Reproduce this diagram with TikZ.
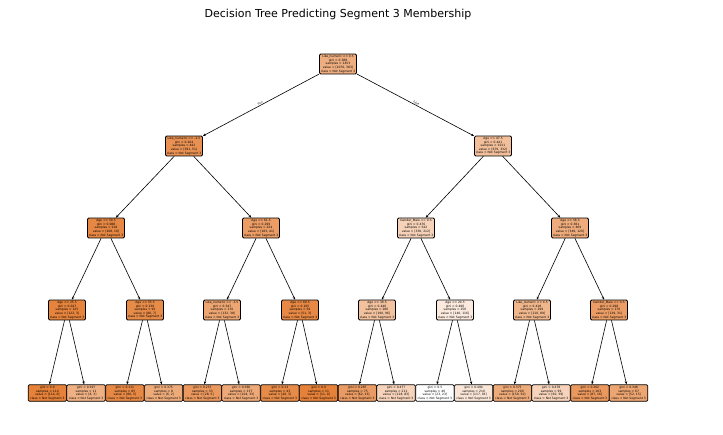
\documentclass[tikz,border=0pt]{standalone}
\usepackage{fontspec}
\setmainfont{DejaVu Sans}
\usepackage{xcolor}
\usetikzlibrary{arrows.meta}
\definecolor{treeor}{RGB}{229,129,57}

\begin{document}
\begin{tikzpicture}[
  x=1pt, y=-1pt,
  >={Stealth[length=3pt,width=2.4pt]},
  nd/.style={draw, rounded corners=1.2pt, line width=0.75pt, align=center,
             inner sep=1.3pt, font=\fontsize{3}{3.6}\selectfont},
  lf/.style={nd, minimum width=38.5pt, minimum height=16.5pt},
  ed/.style={->, line width=0.6pt},
  el/.style={font=\fontsize{2.6}{3}\selectfont, inner sep=0.6pt, midway, sloped, above}]

  \useasboundingbox (0,0) rectangle (723,434);
  \node[font=\fontsize{11}{13}\selectfont] (title) at (338,14)
    {Decision Tree Predicting Segment 3 Membership};

  \node[nd, fill=treeor!64!white] (root) at (338,64) {Like\_numeric <= 0.5\\ gini = 0.388\\
    samples = 1453\\ value = [1070, 383]\\ class = Not Segment 3};

  \node[nd, fill=treeor!87!white] (l) at (184,146) {Like\_numeric <= -2.5\\ gini = 0.204\\
    samples = 442\\ value = [391, 51]\\ class = Not Segment 3};
  \node[nd, fill=treeor!51!white] (r) at (493,146) {Age <= 47.5\\ gini = 0.441\\
    samples = 1011\\ value = [679, 332]\\ class = Not Segment 3};

  \node[nd, fill=treeor!95!white] (a) at (106,228) {Age <= 50.5\\ gini = 0.088\\
    samples = 218\\ value = [208, 10]\\ class = Not Segment 3};
  \node[nd, fill=treeor!78!white] (b) at (261,228) {Age <= 61.5\\ gini = 0.299\\
    samples = 224\\ value = [183, 41]\\ class = Not Segment 3};
  \node[nd, fill=treeor!36!white] (c) at (416,228) {Gender\_Male <= 0.5\\ gini = 0.476\\
    samples = 542\\ value = [330, 212]\\ class = Not Segment 3};
  \node[nd, fill=treeor!66!white] (d) at (570,228) {Age <= 56.5\\ gini = 0.381\\
    samples = 469\\ value = [349, 120]\\ class = Not Segment 3};

  \node[nd, fill=treeor!98!white] (a1) at (67,310) {Age <= 25.5\\ gini = 0.047\\
    samples = 125\\ value = [122, 3]\\ class = Not Segment 3};
  \node[nd, fill=treeor!92!white] (a2) at (145,310) {Age <= 55.5\\ gini = 0.139\\
    samples = 93\\ value = [86, 7]\\ class = Not Segment 3};
  \node[nd, fill=treeor!71!white] (b1) at (222,310) {Like\_numeric <= -3.5\\ gini = 0.347\\
    samples = 170\\ value = [132, 38]\\ class = Not Segment 3};
  \node[nd, fill=treeor!94!white] (b2) at (300,310) {Age <= 69.5\\ gini = 0.105\\
    samples = 54\\ value = [51, 3]\\ class = Not Segment 3};
  \node[nd, fill=treeor!49!white] (c1) at (377,310) {Age <= 30.5\\ gini = 0.446\\
    samples = 286\\ value = [190, 96]\\ class = Not Segment 3};
  \node[nd, fill=treeor!17!white] (c2) at (455,310) {Age <= 24.5\\ gini = 0.496\\
    samples = 256\\ value = [140, 116]\\ class = Not Segment 3};
  \node[nd, fill=treeor!58!white] (d1) at (532,310) {Like\_numeric <= 4.5\\ gini = 0.418\\
    samples = 299\\ value = [210, 89]\\ class = Not Segment 3};
  \node[nd, fill=treeor!78!white] (d2) at (609,310) {Gender\_Male <= 0.5\\ gini = 0.298\\
    samples = 170\\ value = [139, 31]\\ class = Not Segment 3};

  \node[lf, fill=treeor] (la1) at (47.4,393) {gini = 0.0\\ samples = 114\\
    value = [114, 0]\\ class = Not Segment 3};
  \node[lf, fill=treeor!62!white] (la2) at (86.1,393) {gini = 0.397\\ samples = 11\\
    value = [8, 3]\\ class = Not Segment 3};
  \node[lf, fill=treeor!94!white] (la3) at (124.9,393) {gini = 0.111\\ samples = 85\\
    value = [80, 5]\\ class = Not Segment 3};
  \node[lf, fill=treeor!67!white] (la4) at (163.6,393) {gini = 0.375\\ samples = 8\\
    value = [6, 2]\\ class = Not Segment 3};
  \node[lf, fill=treeor!82!white] (lb1) at (202.4,393) {gini = 0.257\\ samples = 33\\
    value = [28, 5]\\ class = Not Segment 3};
  \node[lf, fill=treeor!68!white] (lb2) at (241.1,393) {gini = 0.366\\ samples = 137\\
    value = [104, 33]\\ class = Not Segment 3};
  \node[lf, fill=treeor!92!white] (lb3) at (279.9,393) {gini = 0.13\\ samples = 43\\
    value = [40, 3]\\ class = Not Segment 3};
  \node[lf, fill=treeor] (lb4) at (318.6,393) {gini = 0.0\\ samples = 11\\
    value = [11, 0]\\ class = Not Segment 3};
  \node[lf, fill=treeor!79!white] (lc1) at (357.4,393) {gini = 0.287\\ samples = 75\\
    value = [62, 13]\\ class = Not Segment 3};
  \node[lf, fill=treeor!35!white] (lc2) at (396.1,393) {gini = 0.477\\ samples = 211\\
    value = [128, 83]\\ class = Not Segment 3};
  \node[lf, fill=white] (lc3) at (434.9,393) {gini = 0.5\\ samples = 46\\
    value = [23, 23]\\ class = Not Segment 3};
  \node[lf, fill=treeor!20!white] (lc4) at (473.6,393) {gini = 0.494\\ samples = 210\\
    value = [117, 93]\\ class = Not Segment 3};
  \node[lf, fill=treeor!67!white] (ld1) at (512.4,393) {gini = 0.375\\ samples = 200\\
    value = [150, 50]\\ class = Not Segment 3};
  \node[lf, fill=treeor!35!white] (ld2) at (551.1,393) {gini = 0.478\\ samples = 99\\
    value = [60, 39]\\ class = Not Segment 3};
  \node[lf, fill=treeor!82!white] (ld3) at (589.9,393) {gini = 0.262\\ samples = 103\\
    value = [87, 16]\\ class = Not Segment 3};
  \node[lf, fill=treeor!71!white] (ld4) at (628.6,393) {gini = 0.348\\ samples = 67\\
    value = [52, 15]\\ class = Not Segment 3};

  \draw[ed] (root) -- (l) node[el] {True};
  \draw[ed] (root) -- (r) node[el] {False};
  \draw[ed] (l) -- (a);
  \draw[ed] (l) -- (b);
  \draw[ed] (r) -- (c);
  \draw[ed] (r) -- (d);
  \draw[ed] (a) -- (a1);
  \draw[ed] (a) -- (a2);
  \draw[ed] (b) -- (b1);
  \draw[ed] (b) -- (b2);
  \draw[ed] (c) -- (c1);
  \draw[ed] (c) -- (c2);
  \draw[ed] (d) -- (d1);
  \draw[ed] (d) -- (d2);
  \draw[ed] (a1) -- (la1);
  \draw[ed] (a1) -- (la2);
  \draw[ed] (a2) -- (la3);
  \draw[ed] (a2) -- (la4);
  \draw[ed] (b1) -- (lb1);
  \draw[ed] (b1) -- (lb2);
  \draw[ed] (b2) -- (lb3);
  \draw[ed] (b2) -- (lb4);
  \draw[ed] (c1) -- (lc1);
  \draw[ed] (c1) -- (lc2);
  \draw[ed] (c2) -- (lc3);
  \draw[ed] (c2) -- (lc4);
  \draw[ed] (d1) -- (ld1);
  \draw[ed] (d1) -- (ld2);
  \draw[ed] (d2) -- (ld3);
  \draw[ed] (d2) -- (ld4);
\end{tikzpicture}
\end{document}
